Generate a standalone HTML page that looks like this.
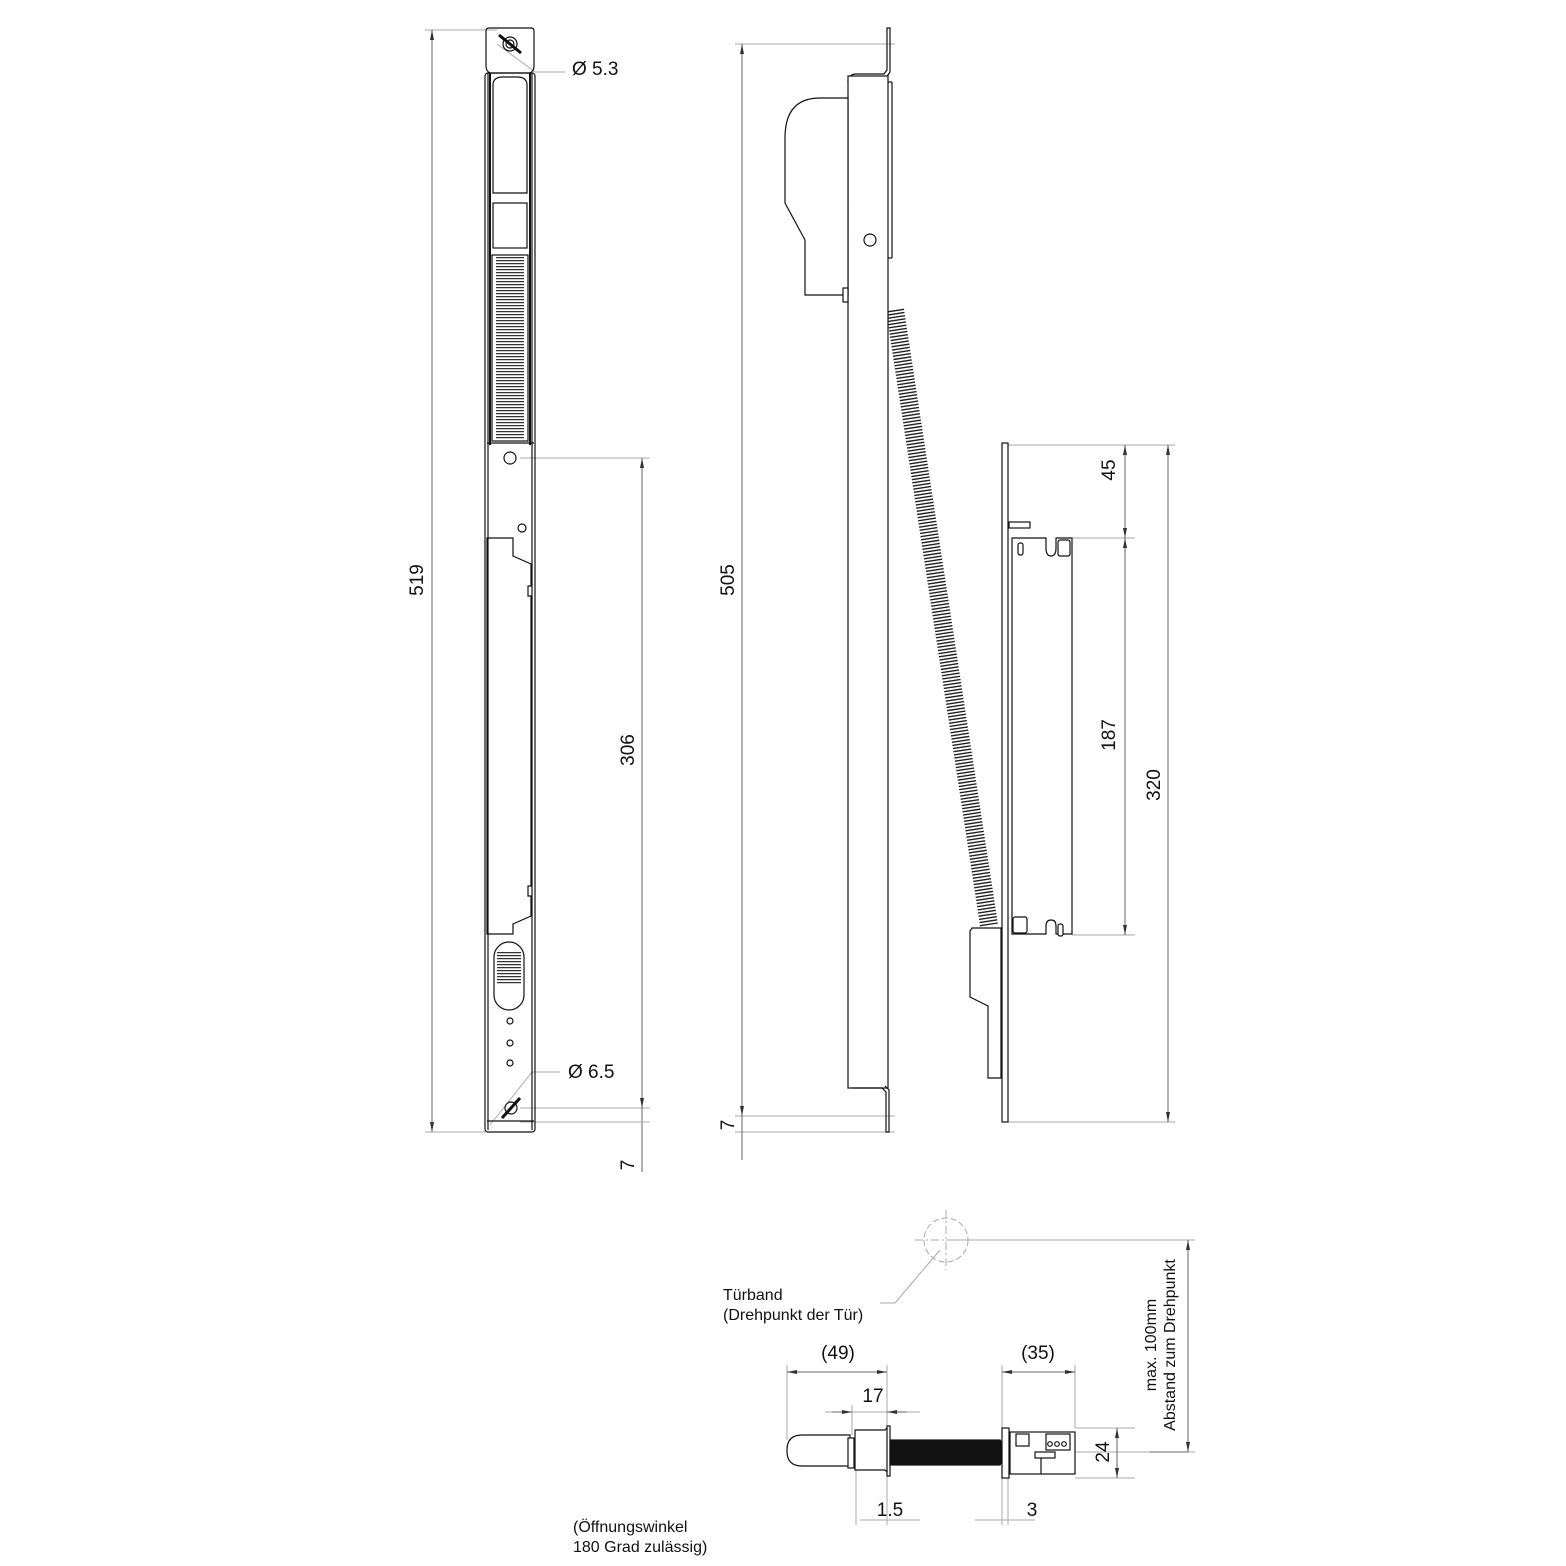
<!DOCTYPE html>
<html><head><meta charset="utf-8"><style>
html,body{margin:0;padding:0;background:#fff}
svg{display:block}
text{font-family:"Liberation Sans",sans-serif;fill:#111}
</style></head><body>
<svg width="1566" height="1566" viewBox="0 0 1566 1566" xmlns="http://www.w3.org/2000/svg">
<defs>
<marker id="a" viewBox="0 0 10 4" refX="10" refY="2" markerWidth="10" markerHeight="4" orient="auto-start-reverse" markerUnits="userSpaceOnUse"><path d="M0,0L10,2L0,4z" fill="#333"/></marker>
</defs>
<g stroke="#aaa" stroke-width="1" fill="none">
<!-- left dims -->
<line x1="425" y1="30" x2="497" y2="30"/>
<line x1="425" y1="1132" x2="497" y2="1132"/>
<line x1="432" y1="30" x2="432" y2="1132" stroke="#666" marker-start="url(#a)" marker-end="url(#a)"/>
<line x1="520" y1="458" x2="650" y2="458"/>
<line x1="520" y1="1108" x2="650" y2="1108"/>
<line x1="642" y1="458" x2="642" y2="1108" stroke="#666" marker-start="url(#a)" marker-end="url(#a)"/>
<line x1="642" y1="1108" x2="642" y2="1172" stroke="#666"/>
<line x1="520" y1="1122" x2="650" y2="1122"/>
<line x1="497" y1="44" x2="535" y2="72"/><line x1="535" y1="72" x2="565" y2="72"/>
<line x1="560" y1="1072" x2="532" y2="1072"/>
<line x1="532" y1="1072" x2="490" y2="1125"/>
<!-- middle dims -->
<line x1="735" y1="44" x2="895" y2="44"/>
<line x1="735" y1="1132" x2="895" y2="1132"/>
<line x1="735" y1="1116" x2="895" y2="1116"/>
<line x1="742" y1="44" x2="742" y2="1160" stroke="#666" marker-start="url(#a)"/>
<line x1="742" y1="1100" x2="742" y2="1116" stroke="#666" marker-end="url(#a)"/>
<!-- right dims -->
<line x1="1008" y1="445" x2="1175" y2="445"/>
<line x1="1060" y1="538" x2="1135" y2="538"/>
<line x1="1072" y1="935" x2="1135" y2="935"/>
<line x1="1008" y1="1122" x2="1175" y2="1122"/>
<line x1="1125" y1="445" x2="1125" y2="538" stroke="#666" marker-start="url(#a)" marker-end="url(#a)"/>
<line x1="1125" y1="538" x2="1125" y2="935" stroke="#666" marker-start="url(#a)" marker-end="url(#a)"/>
<line x1="1168" y1="445" x2="1168" y2="1122" stroke="#666" marker-start="url(#a)" marker-end="url(#a)"/>
<!-- bottom dims -->
<line x1="946" y1="1240" x2="1195" y2="1240"/>
<line x1="1075" y1="1452" x2="1195" y2="1452"/>
<line x1="1188" y1="1240" x2="1188" y2="1452" stroke="#666" marker-start="url(#a)" marker-end="url(#a)"/>
<line x1="787" y1="1365" x2="787" y2="1440"/>
<line x1="887" y1="1365" x2="887" y2="1525"/>
<line x1="852" y1="1405" x2="852" y2="1435"/>
<line x1="787" y1="1372" x2="887" y2="1372" stroke="#666" marker-start="url(#a)" marker-end="url(#a)"/>
<line x1="825" y1="1412" x2="920" y2="1412"/>
<line x1="832" y1="1412" x2="852" y2="1412" stroke="#666" marker-end="url(#a)"/>
<line x1="907" y1="1412" x2="887" y2="1412" stroke="#666" marker-end="url(#a)"/>
<line x1="856" y1="1468" x2="856" y2="1525"/>
<line x1="860" y1="1520" x2="920" y2="1520"/>
<line x1="1002" y1="1365" x2="1002" y2="1525"/>
<line x1="1075" y1="1365" x2="1075" y2="1428"/>
<line x1="1008" y1="1430" x2="1008" y2="1525"/>
<line x1="1002" y1="1372" x2="1075" y2="1372" stroke="#666" marker-start="url(#a)" marker-end="url(#a)"/>
<line x1="975" y1="1520" x2="1035" y2="1520"/>
<line x1="1075" y1="1428" x2="1135" y2="1428"/>
<line x1="1075" y1="1478" x2="1135" y2="1478"/>
<line x1="1117" y1="1428" x2="1117" y2="1478" stroke="#666" marker-start="url(#a)" marker-end="url(#a)"/>
<line x1="895" y1="1303" x2="940" y2="1250"/>
<line x1="880" y1="1303" x2="895" y2="1303"/>
<circle cx="946" cy="1240" r="22" stroke-dasharray="6,3"/>
<line x1="915" y1="1240" x2="977" y2="1240" stroke-dasharray="8,3,2,3"/>
<line x1="946" y1="1210" x2="946" y2="1270" stroke-dasharray="8,3,2,3"/>
</g>
<g stroke="#666" stroke-width="1"><line x1="1150" y1="1452" x2="1188" y2="1452"/></g>
<!-- LEFT PART -->
<g stroke="#111" stroke-width="1.2" fill="none">
<path d="M489,28h42q3,0 3,3v35q0,5 -4,7h-40q-4,-2 -4,-7v-35q0,-3 3,-3z"/>
<circle cx="510" cy="44" r="7"/><circle cx="510" cy="44" r="4"/>
<rect x="485" y="73" width="50" height="1059" rx="3"/>
<line x1="488" y1="73" x2="488" y2="1130"/><line x1="532" y1="73" x2="532" y2="1130"/>
<line x1="490" y1="73" x2="490" y2="445" stroke-width="2"/><line x1="530" y1="73" x2="530" y2="445" stroke-width="2"/>
<path d="M493,193v-108q0,-8 10,-8h14q10,0 10,8v108z"/>
<rect x="493" y="203" width="34" height="45"/>
<rect x="492" y="255" width="36" height="186"/>
<line x1="487" y1="443" x2="534" y2="443"/>
<circle cx="510" cy="458" r="6"/>
<circle cx="522" cy="528" r="4"/>
<path d="M487,538h26v18l18,8v22h-3v10h3v290h-3v10h3v20l-18,8v10h-26z"/>
<rect x="494" y="942" width="30" height="68" rx="15"/>
<circle cx="510" cy="1021" r="3"/><circle cx="510" cy="1043" r="3"/><circle cx="510" cy="1063" r="3"/>
<circle cx="511" cy="1108" r="6"/>
<line x1="487" y1="1121" x2="534" y2="1121"/>
</g>
<line x1="510" y1="257" x2="510" y2="440" stroke="#333" stroke-width="28" stroke-dasharray="1.3,1.7"/>
<line x1="509" y1="952" x2="509" y2="985" stroke="#333" stroke-width="24" stroke-dasharray="1.3,1.7"/>
<g stroke="#111" stroke-width="3"><line x1="499" y1="35" x2="521" y2="53"/><line x1="520" y1="1098" x2="502" y2="1118"/></g>
<!-- MIDDLE -->
<line x1="895" y1="310" x2="989" y2="925" stroke="#222" stroke-width="18" stroke-dasharray="1.4,1.8"/>
<g stroke="#111" stroke-width="1.2" fill="#fff">
<path d="M848,80q2,-6 8,-6h28l3,-4v-42h3v44l-4,6z" fill="none"/>
<rect x="848" y="76" width="40" height="1012"/>
<line x1="888" y1="82" x2="892" y2="82"/><line x1="892" y1="82" x2="892" y2="258"/><line x1="888" y1="258" x2="892" y2="258"/>
<path d="M848,98h-28q-35,0 -35,40v65l20,37v55h43z"/>
<rect x="843" y="288" width="5" height="14"/>
<circle cx="870" cy="240" r="6"/>
<path d="M852,1088h30l4,4v40h3v-42l-4,-4" fill="none"/>
<!-- right part -->
<rect x="1002" y="443" width="6" height="679"/>
<rect x="1009" y="522" width="21" height="6"/>
<path d="M1012,538h34v10q0,8 5,8q5,0 5,-8v-10h16v396h-16v-8q0,-6 -5,-6q-5,0 -5,6v8h-34z"/>
<rect x="1018" y="543" width="5" height="12" rx="2"/><rect x="1058" y="540" width="12" height="16" rx="2"/>
<rect x="1058" y="924" width="5" height="12" rx="2"/><rect x="1013" y="917" width="14" height="16" rx="2"/>
<path d="M1001,928h-29l-2,3v66l18,9v72h13z"/>
</g>
<!-- BOTTOM assembly -->
<g stroke="#111" stroke-width="1.2" fill="#fff">
<path d="M850,1435h-48q-15,0 -15,15v1q0,15 15,15h48z"/>
<rect x="848" y="1438" width="6" height="30"/>
<path d="M855,1430h30l3,-3v46l-3,-3h-30z"/>
<rect x="887" y="1426" width="3" height="50"/>
<rect x="890" y="1440" width="110" height="25" fill="#111"/>
<path d="M1000,1440q10,10 0,25" fill="#111"/>
<rect x="1002" y="1428" width="7" height="50"/>
<rect x="1010" y="1432" width="65" height="42"/>
<rect x="1016" y="1434" width="13" height="12"/>
<rect x="1046" y="1434" width="24" height="16"/>
<circle cx="1050" cy="1444" r="2.3"/><circle cx="1057" cy="1444" r="2.3"/><circle cx="1064" cy="1444" r="2.3"/>
<rect x="1035" y="1452" width="20" height="6"/>
<line x1="1041" y1="1458" x2="1041" y2="1474"/>
</g>
<!-- TEXT -->
<g font-size="19">
<text x="572" y="75">Ø 5.3</text>
<text x="568" y="1078">Ø 6.5</text>
<text transform="translate(423,580) rotate(-90)" text-anchor="middle">519</text>
<text transform="translate(634,750) rotate(-90)" text-anchor="middle">306</text>
<text transform="translate(634,1165) rotate(-90)" text-anchor="middle">7</text>
<text transform="translate(734,580) rotate(-90)" text-anchor="middle">505</text>
<text transform="translate(734,1125) rotate(-90)" text-anchor="middle">7</text>
<text transform="translate(1115,470) rotate(-90)" text-anchor="middle">45</text>
<text transform="translate(1115,735) rotate(-90)" text-anchor="middle">187</text>
<text transform="translate(1160,785) rotate(-90)" text-anchor="middle">320</text>
<text transform="translate(1109,1452) rotate(-90)" text-anchor="middle">24</text>
<text x="838" y="1359" text-anchor="middle">(49)</text>
<text x="1038" y="1359" text-anchor="middle">(35)</text>
<text x="873" y="1402" text-anchor="middle">17</text>
<text x="890" y="1516" text-anchor="middle">1.5</text>
<text x="1032" y="1516" text-anchor="middle">3</text>
</g>
<g font-size="16">
<text x="723" y="1300">Türband</text>
<text x="723" y="1320">(Drehpunkt der Tür)</text>
<text transform="translate(1156,1345) rotate(-90)" text-anchor="middle">max. 100mm</text>
<text transform="translate(1175,1345) rotate(-90)" text-anchor="middle">Abstand zum Drehpunkt</text>
<text x="573" y="1532">(Öffnungswinkel</text>
<text x="573" y="1552">180 Grad zulässig)</text>
</g>
</svg>
</body></html>
